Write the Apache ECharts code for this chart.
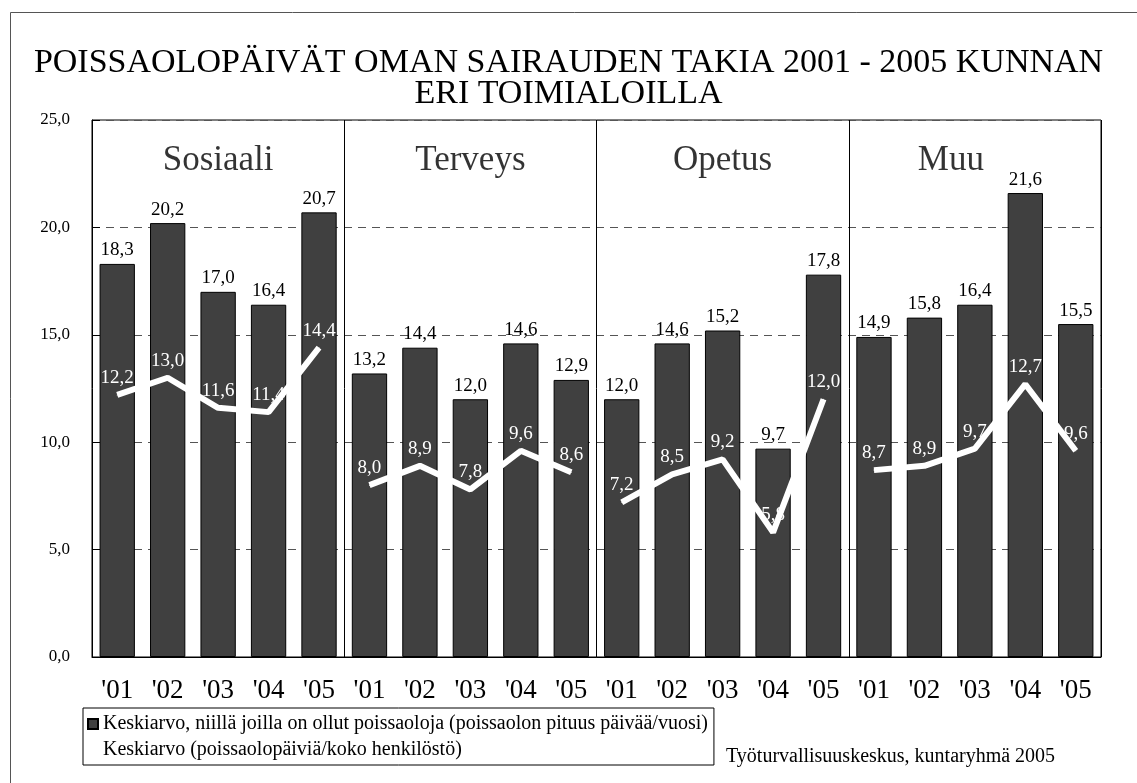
<!DOCTYPE html>
<html>
<head>
<meta charset="utf-8">
<script src="https://cdn.jsdelivr.net/npm/echarts@6/dist/echarts.min.js"></script>
<style>
  html, body { margin: 0; padding: 0; background: #fff; }
  #main { width: 1137px; height: 783px; }
</style>
</head>
<body>
<div id="main"></div>
<script>
// toimialat ja vuodet
var groups = ['Sosiaali', 'Terveys', 'Opetus', 'Muu'];
var years = ["'01", "'02", "'03", "'04", "'05"];
// keskiarvo, niillä joilla on ollut poissaoloja
var barValues = [18.3, 20.2, 17.0, 16.4, 20.7,
                 13.2, 14.4, 12.0, 14.6, 12.9,
                 12.0, 14.6, 15.2, 9.7, 17.8,
                 14.9, 15.8, 16.4, 21.6, 15.5];
// keskiarvo koko henkilöstö
var lineValues = [12.2, 13.0, 11.6, 11.4, 14.4,
                  8.0, 8.9, 7.8, 9.6, 8.6,
                  7.2, 8.5, 9.2, 5.8, 12.0,
                  8.7, 8.9, 9.7, 12.7, 9.6];
var groupLabelValue = 23.1;

var barName = 'Keskiarvo, niillä joilla on ollut poissaoloja (poissaolon pituus päivää/vuosi)';
var lineName = 'Keskiarvo (poissaolopäiviä/koko henkilöstö)';
var font = 'Liberation Serif';

var categories = [];
groups.forEach(function () {
    years.forEach(function (y) { categories.push(y); });
});

function fmt(p) {
    return Number(p.value).toFixed(1).replace('.', ',');
}

var myChart = echarts.init(document.getElementById('main'));

var series = [{
    name: barName,
    type: 'bar',
    data: barValues,
    barWidth: '70%',
    itemStyle: { color: '#404040', borderColor: '#000', borderWidth: 1 },
    label: {
        show: true, position: 'top', distance: 4,
        formatter: fmt, color: '#000', fontFamily: font, fontSize: 19
    },
    z: 2
}];

// viiva katkeaa toimialojen välillä
groups.forEach(function (g, gi) {
    var d = lineValues.map(function (v, i) {
        return Math.floor(i / years.length) === gi ? v : '-';
    });
    series.push({
        name: lineName,
        type: 'line',
        data: d,
        symbol: 'circle',
        symbolSize: 1,
        color: '#fff',
        itemStyle: { color: '#fff' },
        lineStyle: { color: '#fff', width: 6 },
        label: {
            show: true, position: 'top', distance: 7,
            formatter: fmt, color: '#fff', fontFamily: font, fontSize: 19
        },
        labelLayout: { hideOverlap: false },
        z: 4
    });
});

// toimialan nimet
series.push({
    type: 'scatter',
    symbolSize: 0,
    silent: true,
    data: groups.map(function (g, gi) {
        var item = { value: [gi * years.length + 2, groupLabelValue], name: g };
        if (gi === 3) item.label = { offset: [-24, 0] };
        return item;
    }),
    label: {
        show: true, position: 'inside',
        formatter: function (p) { return p.name; },
        color: '#000', fontFamily: font, fontSize: 35
    },
    z: 5
});

var option = {
    backgroundColor: '#fff',
    animation: false,
    title: {
        text: 'POISSAOLOPÄIVÄT OMAN SAIRAUDEN TAKIA 2001 - 2005 KUNNAN\nERI TOIMIALOILLA',
        left: 'center',
        top: 43,
        padding: [5, 0, 5, 18],
        textStyle: { fontFamily: font, fontSize: 34, fontWeight: 'normal', color: '#000', lineHeight: 31 }
    },
    legend: {
        orient: 'vertical',
        left: 83,
        top: 708,
        data: [{ name: barName, icon: 'rect' }, { name: lineName, icon: 'rect' }],
        itemWidth: 10,
        itemHeight: 10,
        itemGap: 6,
        padding: [6, 6, 5, 4],
        borderColor: '#000',
        borderWidth: 1,
        backgroundColor: '#fff',
        textStyle: { fontFamily: font, fontSize: 20, color: '#000' }
    },
    grid: {
        left: 92, right: 36, top: 120, bottom: 126,
        show: true, borderColor: '#000', borderWidth: 1
    },
    xAxis: {
        type: 'category',
        data: categories,
        axisLine: { lineStyle: { color: '#000' } },
        axisTick: { show: false },
        axisLabel: { color: '#000', fontFamily: font, fontSize: 27, margin: 20, interval: 0 },
        splitLine: {
            show: true,
            interval: function (index) { return index > 0 && index % years.length === 0; },
            lineStyle: { color: '#000', width: 1 }
        }
    },
    yAxis: {
        type: 'value',
        min: 0, max: 25, interval: 5,
        axisLine: { show: true, lineStyle: { color: '#000' } },
        axisTick: { show: true, inside: true, length: 8, lineStyle: { color: '#000' } },
        axisLabel: {
            color: '#000', fontFamily: font, fontSize: 17, margin: 22,
            formatter: function (v) { return v.toFixed(1).replace('.', ','); }
        },
        splitLine: { show: true, lineStyle: { color: '#555', type: [8, 6] } }
    },
    graphic: [{
        type: 'rect',
        left: 8, top: 10,
        shape: { width: 1200, height: 800 },
        style: { fill: null, stroke: '#555', lineWidth: 1 },
        z: -10
    }, {
        type: 'text',
        left: 726, top: 747,
        style: { text: 'Työturvallisuuskeskus, kuntaryhmä 2005', font: '20px "Liberation Serif"', fill: '#000' }
    }],
    series: series
};
myChart.setOption(option);
</script>
</body>
</html>
